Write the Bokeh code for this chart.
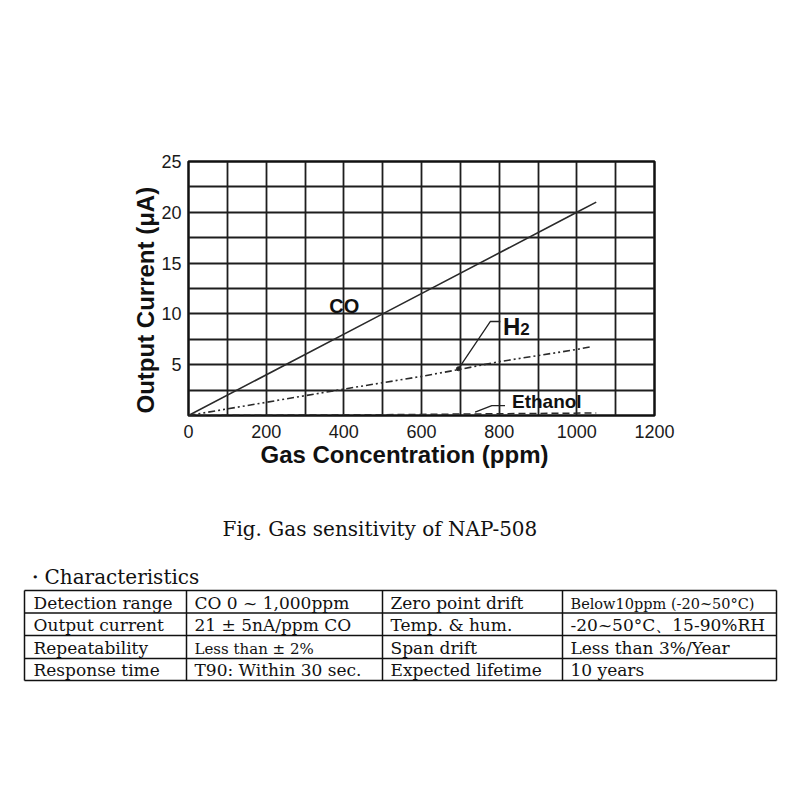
import numpy as np
from bokeh.plotting import figure
from bokeh.models import Range1d, FixedTicker, Label, Title, ColumnDataSource
from bokeh.core.properties import value
from bokeh.embed import file_html
from bokeh.resources import INLINE

# ---------------- data ----------------
co_x = [0, 500, 1000, 1050]
co_y = [0, 10, 20, 21]

h2_x = [0, 100, 400, 600, 700, 800, 1000, 1040]
h2_y = [0, 0.65, 2.6, 3.85, 4.55, 5.3, 6.5, 6.8]

eth_x = [0, 500, 1050]
eth_y = [0, 0.08, 0.25]

x_ticks = [0, 200, 400, 600, 800, 1000, 1200]
y_ticks = [5, 10, 15, 20, 25]
x_grid = [0, 100, 200, 300, 400, 500, 600, 700, 800, 900, 1000, 1100, 1200]
y_grid = [0, 2.5, 5, 7.5, 10, 12.5, 15, 17.5, 20, 22.5, 25]

x_label = "Gas Concentration (ppm)"
y_label = "Output Current (μA)"
caption = "Fig. Gas sensitivity of NAP-508"
section = "・Characteristics"

items_left = ["Detection range", "Output current", "Repeatability", "Response time"]
values_left = ["CO 0 ~ 1,000ppm", "21 ± 5nA/ppm CO", "Less than ± 2%", "T90: Within 30 sec."]
items_right = ["Zero point drift", "Temp. & hum.", "Span drift", "Expected lifetime"]
values_right = ["Below10ppm (-20~50°C)", "-20~50°C、15-90%RH", "Less than 3%/Year", "10 years"]

SANS = "Liberation Sans"
SERIF = "DejaVu Serif"

# ---------------- chart ----------------
p = figure(width=800, height=495, x_range=Range1d(0, 1200), y_range=Range1d(0, 25),
           output_backend="svg", toolbar_location=None,
           min_border_left=188, min_border_right=146, min_border_top=161, min_border_bottom=80)
p.background_fill_color = "white"
p.border_fill_color = "white"
p.outline_line_color = "#111111"
p.outline_line_width = 2.5
p.outline_line_alpha = 1.0

p.xaxis.ticker = FixedTicker(ticks=x_ticks)
p.yaxis.ticker = FixedTicker(ticks=y_ticks)
p.xgrid.ticker = FixedTicker(ticks=x_grid)
p.ygrid.ticker = FixedTicker(ticks=y_grid)
p.grid.grid_line_color = "#1e1e1e"
p.grid.grid_line_width = 1.8
p.grid.grid_line_alpha = 1.0

p.axis.axis_line_color = None
p.axis.major_tick_line_color = None
p.axis.minor_tick_line_color = None
p.axis.major_label_text_font = SANS
p.axis.major_label_text_font_size = "18px"
p.axis.major_label_text_color = "#1a1a1a"
p.xaxis.major_label_standoff = 3
p.yaxis.major_label_standoff = 1

# axis titles placed as side-panel titles so they can be shifted like the reference
p.add_layout(Title(text=x_label, align="left", offset=72, standoff=-3,
                   text_font=SANS, text_font_size="24px", text_font_style="bold",
                   text_color="#111111"), "below")
p.add_layout(Title(text=y_label, align="left", offset=2, standoff=0,
                   text_font=SANS, text_font_size="24px", text_font_style="bold",
                   text_color="#111111"), "left")

p.line(co_x, co_y, line_color="#2a2a2a", line_width=1.6)
p.line(h2_x, h2_y, line_color="#2a2a2a", line_width=1.6, line_dash="7 3 2 3 2 3")
p.line(eth_x, eth_y, line_color="#2a2a2a", line_width=1.5, line_dash="7 4")

# leader lines
p.line([695, 777, 803], [4.6, 9.25, 9.25], line_color="#222222", line_width=1.3)
p.line([738, 781, 815], [0.33, 0.98, 0.98], line_color="#222222", line_width=1.3)
p.scatter([695], [4.6], size=4, color="#222222")


def lab(x, y, text, size, align="left"):
    p.add_layout(Label(x=x, y=y, text=text, text_font=SANS, text_font_size=size,
                       text_font_style="bold", text_color="#111111",
                       text_align=align, text_baseline="alphabetic"))


lab(401, 10.8, "CO", "20px", align="center")
lab(810, 8.76, "H", "24px")
lab(854, 8.5, "2", "17px")
lab(833, 1.38, "Ethanol", "19px")

# ---------------- caption + table (separate root, page pixel coordinates) ----------------
q = figure(width=800, height=300, x_range=Range1d(0, 800), y_range=Range1d(795, 495),
           output_backend="svg", toolbar_location=None,
           x_axis_location=None, y_axis_location=None, min_border=0)
q.outline_line_color = None
q.xgrid.visible = False
q.ygrid.visible = False
q.background_fill_color = "white"
q.border_fill_color = "white"

col_edges = [24, 186, 382, 562, 776]
row_edges = [590, 612.5, 635, 658, 680]

q.segment(x0=[col_edges[0]] * len(row_edges), y0=row_edges,
          x1=[col_edges[-1]] * len(row_edges), y1=row_edges,
          line_color="#111111", line_width=1.5)
q.segment(x0=col_edges, y0=[row_edges[0]] * len(col_edges),
          x1=col_edges, y1=[row_edges[-1]] * len(col_edges),
          line_color="#111111", line_width=1.5)

tx, ty, tt, ts = [], [], [], []
columns = [items_left, values_left, items_right, values_right]
small = {"Less than ± 2%": 15, "Below10ppm (-20~50°C)": 14.5}
for ci, col in enumerate(columns):
    for ri, txt in enumerate(col):
        fs = small.get(txt, 17)
        tx.append(col_edges[ci] + (9 if ci == 0 else 8))
        ty.append(row_edges[ri + 1] - 3.5 - 0.4 * fs)
        tt.append(txt)
        ts.append(f"{fs}px")

src = ColumnDataSource(dict(x=tx, y=ty, text=tt, size=ts))
q.text(x="x", y="y", text="text", source=src, text_font=value(SERIF), text_font_size="size",
       text_baseline="alphabetic", text_align="left", text_color="#111111")

q.text(x=[222], y=[536 - 8], text=[caption], text_font=value(SERIF), text_font_size="20px",
       text_baseline="alphabetic", text_color="#111111")
q.text(x=[24], y=[584 - 8], text=[section], text_font=value(SERIF), text_font_size="20px",
       text_baseline="alphabetic", text_color="#111111")

open("out.html", "w").write(file_html([p, q], INLINE))
